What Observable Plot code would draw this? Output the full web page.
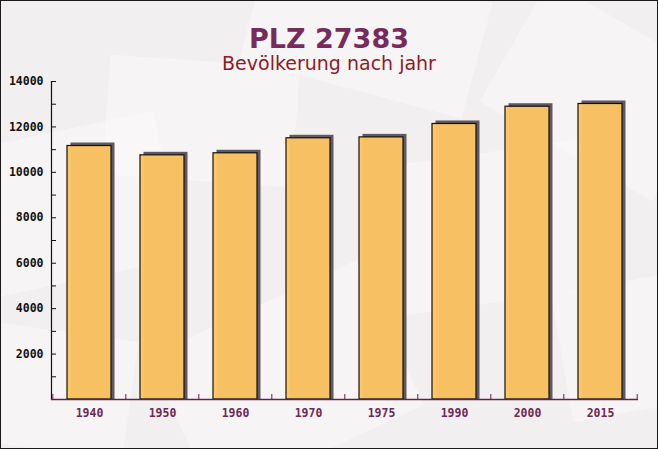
<!DOCTYPE html>
<html><head><meta charset="utf-8">
<script src="https://cdn.jsdelivr.net/npm/d3@7"></script>
<script src="https://cdn.jsdelivr.net/npm/@observablehq/plot@0.6"></script>
<style>
html,body{margin:0;padding:0;background:#fff;}
#wrap{position:relative;width:658px;height:449px;box-sizing:border-box;border:1px solid #1a1a1a;background:#f2eff0;overflow:hidden;}
.deco{position:absolute;background:#fbfafa;opacity:0.5;}
#head{position:relative;height:71px;text-align:center;}
#title{position:absolute;left:0;right:0;top:22px;font-family:"DejaVu Sans",sans-serif;font-weight:bold;font-size:27px;line-height:32px;color:#772b5c;}
#sub{position:absolute;left:0;right:0;top:50px;font-family:"DejaVu Sans",sans-serif;font-size:19px;line-height:24px;color:#8e1b1e;}
#chart{position:relative;}
</style></head>
<body>
<div id="wrap">
  <div class="deco" style="left:-40px;top:130px;width:210px;height:150px;transform:rotate(-12deg)"></div>
  <div class="deco" style="left:105px;top:60px;width:190px;height:120px;transform:rotate(4deg)"></div>
  <div class="deco" style="left:250px;top:-30px;width:230px;height:120px;transform:rotate(15deg)"></div>
  <div class="deco" style="left:390px;top:150px;width:220px;height:150px;transform:rotate(-8deg)"></div>
  <div class="deco" style="left:170px;top:300px;width:230px;height:160px;transform:rotate(-25deg)"></div>
  <div class="deco" style="left:500px;top:20px;width:200px;height:140px;transform:rotate(30deg)"></div>
  <div class="deco" style="left:-20px;top:330px;width:150px;height:120px;transform:rotate(8deg)"></div>
  <div class="deco" style="left:560px;top:280px;width:140px;height:130px;transform:rotate(-10deg)"></div>
  <div id="head"><div id="title">PLZ 27383</div><div id="sub">Bevölkerung nach jahr</div></div>
  <div id="chart"></div>
</div>
<script>
const years = ["1940", "1950", "1960", "1970", "1975", "1990", "2000", "2015"];
const population = [11160, 10750, 10840, 11500, 11540, 12130, 12890, 13010];
const yLabelTicks = [2000, 4000, 6000, 8000, 10000, 12000, 14000];
const yAllTicks = [1000, 2000, 3000, 4000, 5000, 6000, 7000, 8000, 9000, 10000, 11000, 12000, 13000, 14000];

const data = years.map((year, i) => ({year, value: population[i]}));

const W = 656, H = 376;
const mL = 50, mR = 19, mT = 9, mB = 49;
const fw = W - mL - mR, fh = H - mT - mB;
const pInner = 0.4, pOuter = 0.2;
const step = fw / (years.length - pInner + 2 * pOuter);

const chart = Plot.plot({
  width: W, height: H,
  marginLeft: mL, marginRight: mR, marginTop: mT, marginBottom: mB,
  style: {background: "transparent", fontFamily: "'DejaVu Sans Mono', monospace", fontSize: "11px", fontWeight: "bold", overflow: "visible"},
  x: {domain: years, paddingInner: pInner, paddingOuter: pOuter, axis: null},
  y: {domain: [0, 14000], axis: null},
  marks: [
    Plot.barY(data, {x: "year", y: "value", fill: "#585058", fillOpacity: 0.95, dx: 3.5, dy: -3, insetBottom: -3}),
    Plot.barY(data, {x: "year", y: "value", fill: "#fdc562", fillOpacity: 0.96, stroke: "#111", strokeWidth: 1.2}),
    Plot.frame({anchor: "left", stroke: "#111", strokeWidth: 1.2}),
    Plot.ruleY([0], {stroke: "#5e2447", strokeWidth: 1.3}),
    Plot.tickY(yAllTicks, {y: d => d, insetRight: fw - 5, stroke: "#111"}),
    Plot.ruleX(years, {x: d => d, dx: -step / 2, insetTop: fh - 5, stroke: "#5e2447"}),
    Plot.ruleX([years[years.length - 1]], {x: d => d, dx: step / 2, insetTop: fh - 5, stroke: "#5e2447"}),
    Plot.axisY({ticks: yLabelTicks, tickSize: 0, tickPadding: 8, tickFormat: d => String(d), fill: "#111", fontSize: 11.5, label: null}),
    Plot.axisX({tickSize: 0, tickPadding: 9, fill: "#6d2a55", fontSize: 11.5, label: null})
  ]
});
document.getElementById("chart").appendChild(chart);
</script>
</body></html>
